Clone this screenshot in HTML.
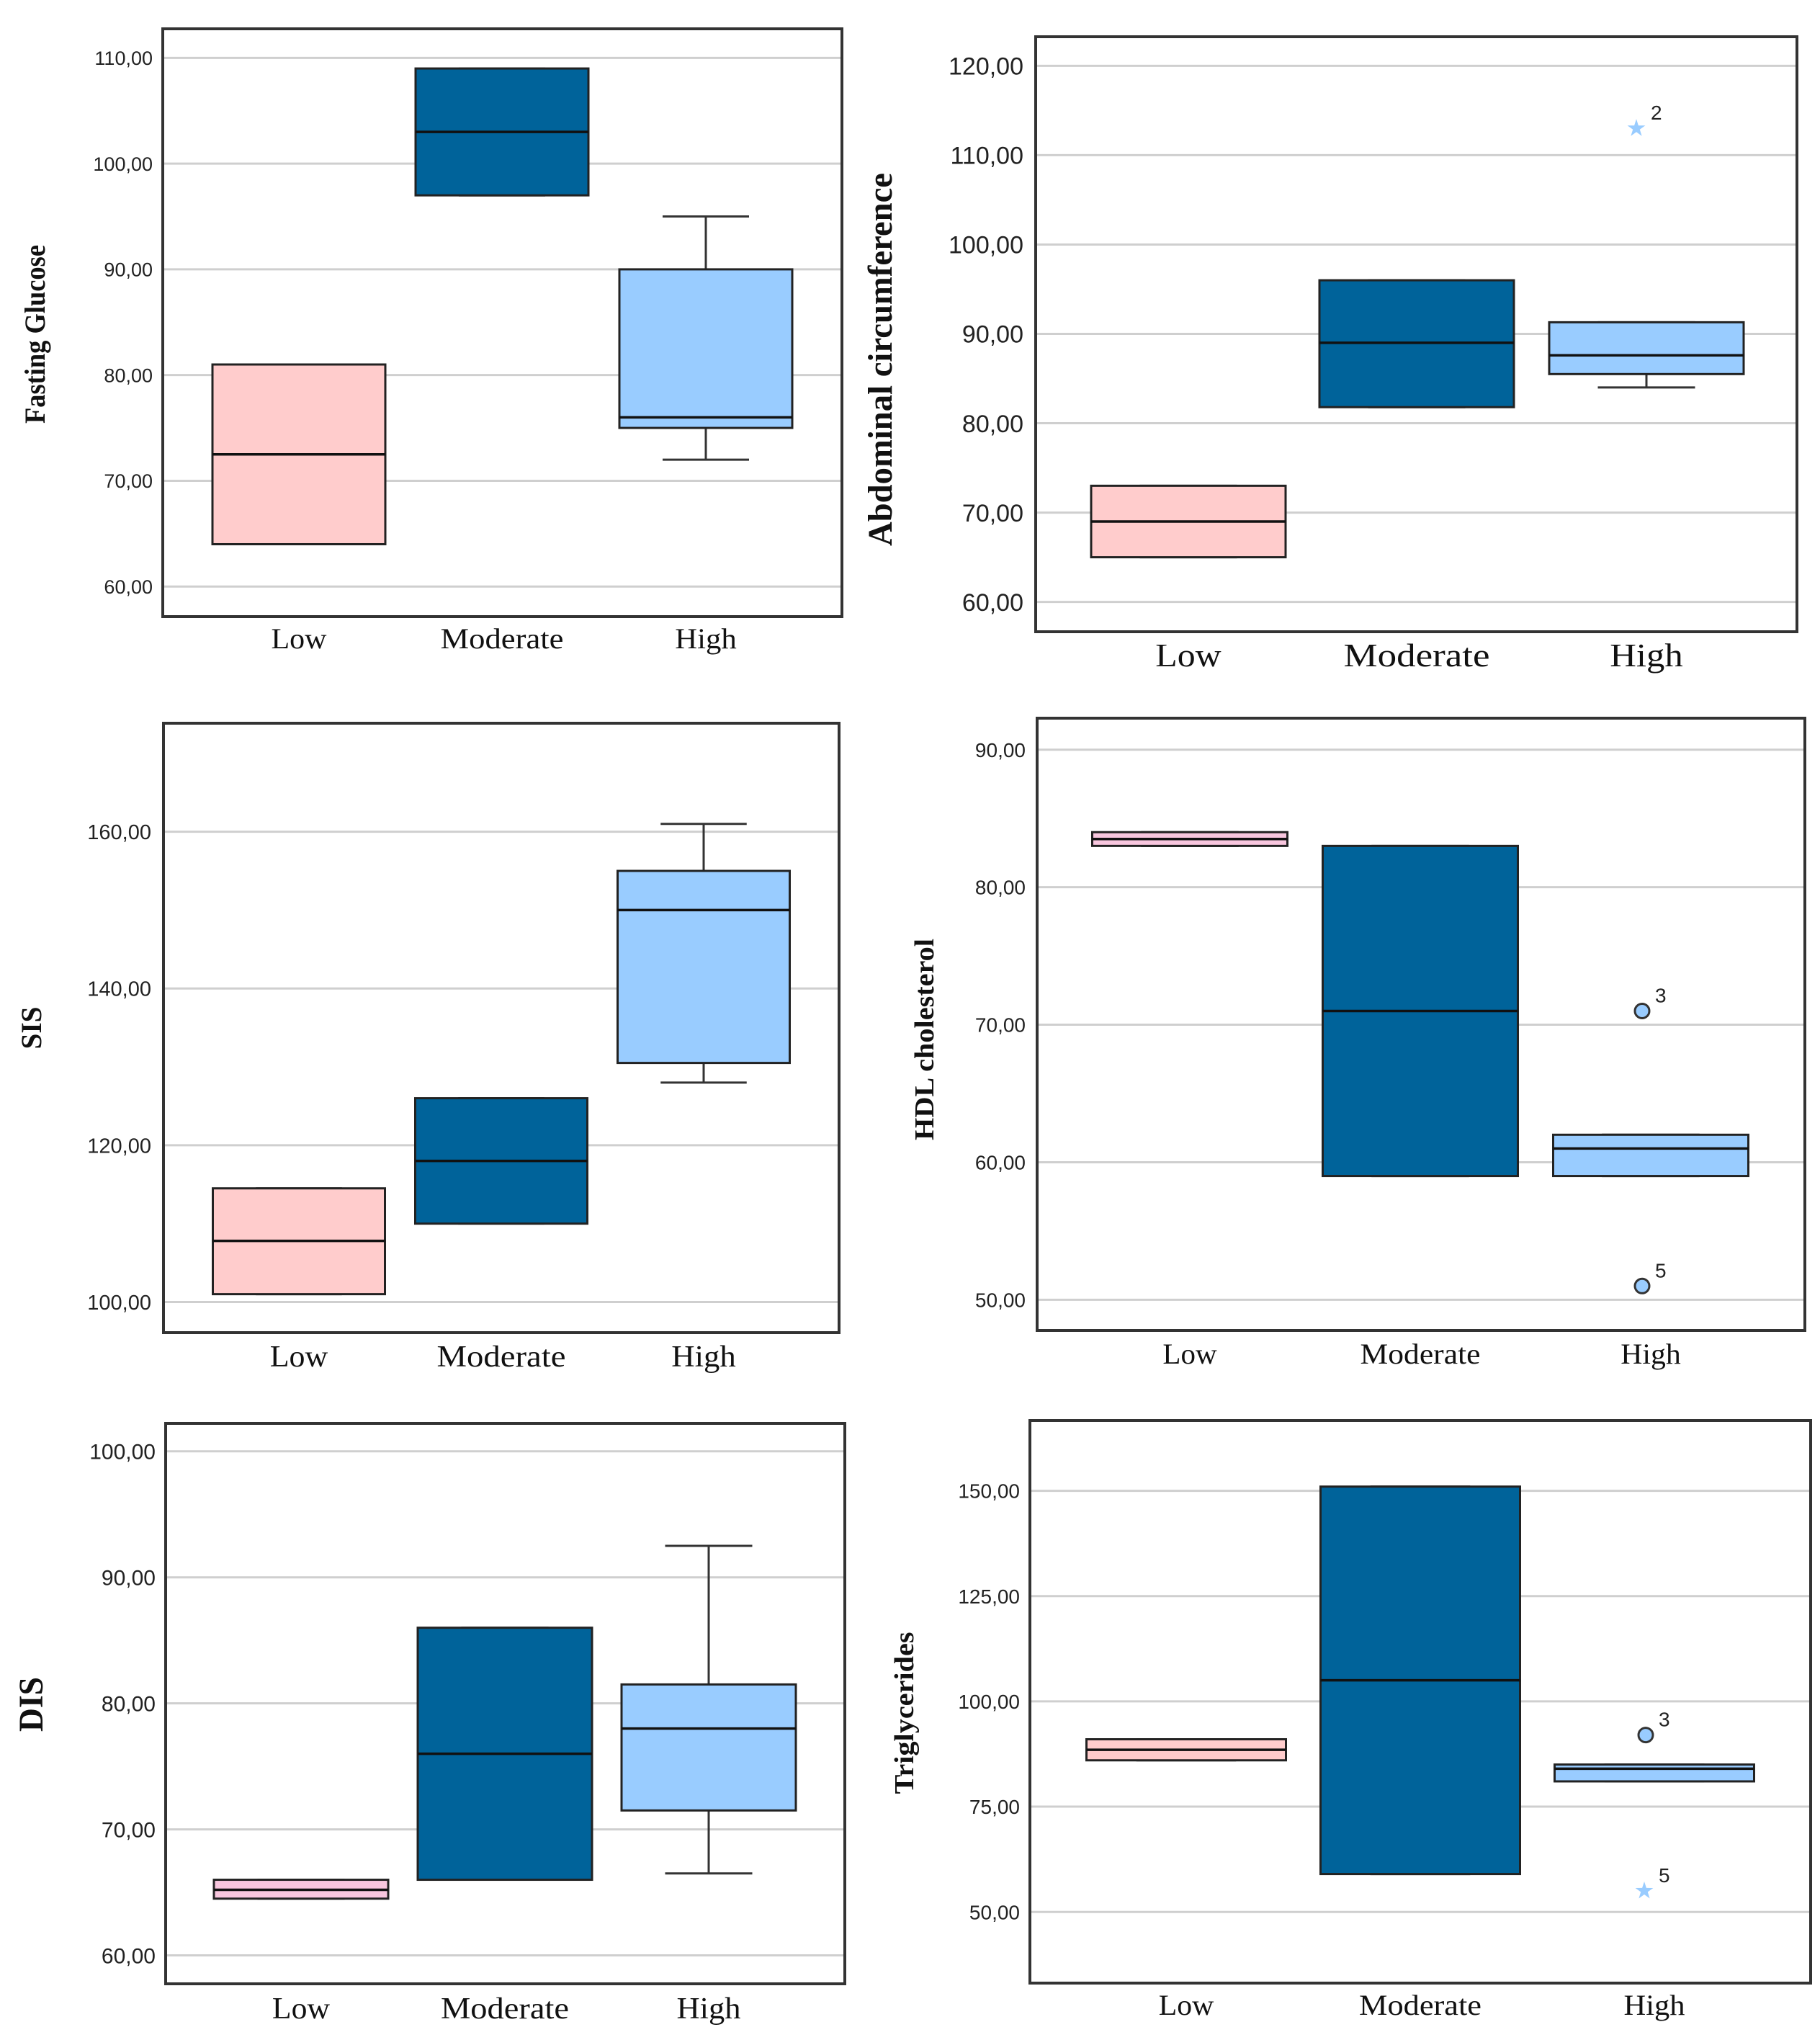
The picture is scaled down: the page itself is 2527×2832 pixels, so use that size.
<!DOCTYPE html>
<html><head><meta charset="utf-8"><style>
html,body{margin:0;padding:0;background:#fff}
svg{display:block}
</style></head><body>
<svg id="fig" width="2527" height="2832" viewBox="0 0 2527 2832" xmlns="http://www.w3.org/2000/svg"></svg>
<script>
// ---- data (min, q1, median, q3, max) per category ----
const categories = ["Low", "Moderate", "High"];
const glucoseStats = [[64,64,72.5,81,81],[97,97,103,109,109],[72,75,76,90,95]];
const glucoseTicks = [60,70,80,90,100,110];
const abdStats = [[65,65,69,73,73],[81.8,81.8,89,96,96],[84,85.5,87.6,91.3,91.3]];
const abdTicks = [60,70,80,90,100,110,120];
const abdOutliers = [[2,113,"2","star"]];
const sisStats = [[101,101,107.8,114.5,114.5],[110,110,118,126,126],[128,130.5,150,155,161]];
const sisTicks = [100,120,140,160];
const hdlStats = [[83,83,83.5,84,84],[59,59,71,83,83],[59,59,61,62,62]];
const hdlTicks = [50,60,70,80,90];
const hdlOutliers = [[2,71,"3","circle"],[2,51,"5","circle"]];
const disStats = [[64.5,64.5,65.2,66,66],[66,66,76,86,86],[66.5,71.5,78,81.5,92.5]];
const disTicks = [60,70,80,90,100];
const trigStats = [[86,86,88.5,91,91],[59,59,105,151,151],[81,81,84,85,85]];
const trigTicks = [50,75,100,125,150];
const trigOutliers = [[2,92,"3","circle"],[2,55,"5","star"]];

// ---- layout (pixels) ----
const NS="http://www.w3.org/2000/svg";
const svg=document.getElementById('fig');
function mk(tag,attrs,parent){const e=document.createElementNS(NS,tag);for(const k in attrs)e.setAttribute(k,attrs[k]);(parent||svg).appendChild(e);return e;}
const fills=["#FFCCCC","#00639A","#99CCFF"];

const panels=[
 {id:"glucose",title:"Fasting Glucose",stats:glucoseStats,ticks:glucoseTicks,out:[],
  L:226,R:1169,T:40,B:856,v1:110,y1:80.4,v2:60,y2:814.2,cx:[415,697,980],bw:240,tf:27,tr:212,
  xf:40,xb:900,mw:171,ttx:62,tty:464,tlen:248,ttf:40,lowFill:"#FFCCCC"},
 {id:"abdominal",title:"Abdominal circumference",stats:abdStats,ticks:abdTicks,out:abdOutliers,
  L:1438,R:2495,T:51,B:877,v1:120,y1:91.4,v2:60,y2:835.6,cx:[1650,1967,2286],bw:270,tf:34,tr:1421,
  xf:46,xb:925,mw:203,ttx:1238,tty:499,tlen:518,ttf:48,lowFill:"#FFCCCC"},
 {id:"sis",title:"SIS",stats:sisStats,ticks:sisTicks,out:[],
  L:227,R:1165,T:1004,B:1850,v1:160,y1:1154.6,v2:100,y2:1807.5,cx:[415,696,977],bw:239,tf:29,tr:210,
  xf:42,xb:1897,mw:179,ttx:57,tty:1427,tlen:59,ttf:40,lowFill:"#FFCCCC"},
 {id:"hdl",title:"HDL cholesterol",stats:hdlStats,ticks:hdlTicks,out:hdlOutliers,
  L:1440,R:2506,T:997,B:1847,v1:90,y1:1040.7,v2:50,y2:1804.4,cx:[1652,1972,2292],bw:271,tf:28,tr:1424,
  xf:40,xb:1893,mw:167,ttx:1296,tty:1443,tlen:280,ttf:38,lowFill:"#F8C6DE"},
 {id:"dis",title:"DIS",stats:disStats,ticks:disTicks,out:[],
  L:230,R:1173,T:1976,B:2754,v1:100,y1:2014.8,v2:60,y2:2714.5,cx:[418,701,984],bw:242,tf:30,tr:216,
  xf:42,xb:2802,mw:178,ttx:59,tty:2366,tlen:76,ttf:48,lowFill:"#F8C6DE"},
 {id:"triglycerides",title:"Triglycerides",stats:trigStats,ticks:trigTicks,out:trigOutliers,
  L:1430,R:2514,T:1972,B:2753,v1:150,y1:2069.6,v2:50,y2:2654.2,cx:[1647,1972,2297],bw:277,tf:28,tr:1416,
  xf:40,xb:2797,mw:170,ttx:1268,tty:2378,tlen:225,ttf:38,lowFill:"#FFCCCC"}
];

function starPoints(cx,cy,ro,ri){
  const pts=[];
  for(let k=0;k<10;k++){const r=k%2?ri:ro;const a=-Math.PI/2+k*Math.PI/5;pts.push((cx+r*Math.cos(a)).toFixed(1)+","+(cy+r*Math.sin(a)).toFixed(1));}
  return pts.join(" ");
}

panels.forEach(p=>{
  const g=mk('g',{});
  
  
  const y=v=>p.y1+(v-p.v1)*(p.y2-p.y1)/(p.v2-p.v1);
  p.ticks.forEach(t=>{
    const gl=mk('line',{x1:p.L,x2:p.R,y1:y(t),y2:y(t),stroke:"#CFCFCF","stroke-width":3},g);
    
    
    const tx=mk('text',{x:p.tr,y:y(t)+p.tf*0.36,"text-anchor":"end","font-family":"Liberation Sans, sans-serif","font-size":p.tf,fill:"#222"},g);
    tx.textContent=t+",00";
    
    
  });
  p.stats.forEach((s,i)=>{
    const cx=p.cx[i], hw=p.bw/2;
    const fill=i===0?p.lowFill:fills[i];
    if(s[4]>s[3]){
      const w=mk('line',{x1:cx,x2:cx,y1:y(s[3]),y2:y(s[4]),stroke:"#333","stroke-width":3},g);
      
      
    }
    if(s[0]<s[1]){
      const w=mk('line',{x1:cx,x2:cx,y1:y(s[1]),y2:y(s[0]),stroke:"#333","stroke-width":3},g);
      
      
    }
    [s[0],s[4]].forEach(v=>{
      const c=mk('line',{x1:cx-hw/2,x2:cx+hw/2,y1:y(v),y2:y(v),stroke:"#333","stroke-width":3},g);
      
      
    });
    const r=mk('rect',{x:cx-hw,y:y(s[3]),width:p.bw,height:Math.max(2,y(s[1])-y(s[3])),fill:fill,stroke:"#222","stroke-width":3},g);
    
    
    const m=mk('line',{x1:cx-hw,x2:cx+hw,y1:y(s[2]),y2:y(s[2]),stroke:"#111","stroke-width":3.5},g);
    
    
    const xl=mk('text',{x:cx,y:p.xb,"text-anchor":"middle","font-family":"Liberation Serif, serif","font-size":p.xf,fill:"#111",
      textLength:(i===1?p.mw:(i===0?p.mw*0.45:p.mw*0.5)),lengthAdjust:"spacingAndGlyphs"},g);
    xl.textContent=categories[i];
    
    
  });
  p.out.forEach(o=>{
    const cx=p.cx[o[0]], cy=y(o[1]);
    if(o[3]==="circle"){
      const c=mk('circle',{cx:cx-12,cy:cy,r:10,fill:"#99CCFF",stroke:"#333","stroke-width":3},g);
      
      
    } else {
      const st=mk('polygon',{points:starPoints(cx-14,cy,13,5),fill:"#99CCFF"},g);
      
      
    }
    const lb=mk('text',{x:cx+6,y:cy-12,"font-family":"Liberation Sans, sans-serif","font-size":28,fill:"#222"},g);
    lb.textContent=o[2];
    
    
  });
  const fr=mk('rect',{x:p.L,y:p.T,width:p.R-p.L,height:p.B-p.T,fill:"none",stroke:"#333","stroke-width":4},g);
  
  
  const tt=mk('text',{x:p.ttx,y:p.tty,transform:"rotate(-90 "+p.ttx+" "+p.tty+")","text-anchor":"middle","font-family":"Liberation Serif, serif","font-weight":"bold","font-size":p.ttf,fill:"#111",
    textLength:p.tlen,lengthAdjust:"spacingAndGlyphs"},g);
  tt.textContent=p.title;
  
  
});
</script>
</body></html>
